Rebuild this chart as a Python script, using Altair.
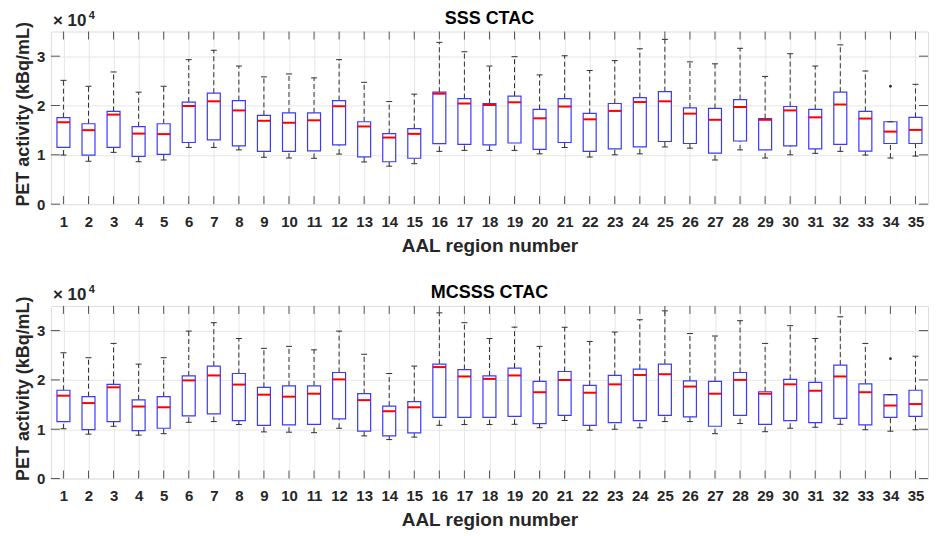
import altair as alt
import pandas as pd

regions = list(range(1, 36))
y_ticks = [0, 10000, 20000, 30000]

# SSS CTAC (top panel)
sss_lo = [9950, 8700, 10500, 8600, 8950, 11500, 11500, 11000, 9500, 9350, 9300, 10150, 8550, 7700, 8200,
          10700, 10900, 10900, 10900, 10200, 11500, 9550, 10000, 10200, 11600, 11350, 8950, 11000, 9350, 10000,
          10300, 10700, 9950, 9350, 9750]
sss_q1 = [11500, 9950, 11500, 9700, 10100, 12500, 13050, 11800, 10700, 10700, 10800, 12000, 9600, 8600, 9300,
          12250, 12100, 12000, 12400, 11100, 12500, 10700, 11200, 11600, 12700, 12300, 10350, 12800, 11000, 11800,
          11200, 12100, 10750, 12300, 12300]
sss_med = [16600, 15000, 18150, 14300, 14200, 19900, 20850, 19000, 16900, 16500, 17000, 19850, 15750, 13500, 14250,
           22400, 20400, 20100, 20650, 17400, 19800, 17200, 18900, 20700, 20850, 18350, 17100, 19700, 17100, 19000,
           17600, 20200, 17350, 14700, 15050]
sss_q3 = [17550, 16300, 18800, 15700, 16300, 20700, 22500, 21000, 18000, 18500, 18500, 21000, 16700, 14300, 15300,
          22700, 21400, 20400, 21900, 19200, 21400, 18400, 20400, 21600, 22800, 19500, 19400, 21200, 17350, 19800,
          19200, 22700, 18800, 16700, 17600]
sss_hi = [25100, 23900, 26800, 22700, 23900, 29300, 31200, 28000, 25800, 26400, 25600, 29300, 24700, 20800, 22300,
          32800, 30900, 28000, 29900, 26200, 30100, 27100, 29100, 31500, 33400, 28850, 28450, 31600, 25900, 30500,
          28000, 32300, 27000, 16700, 24300]
sss_out_region = [34]
sss_out_value = [23900]

# MCSSS CTAC (bottom panel)
mc_lo = [10100, 9000, 10600, 8800, 9100, 11400, 11550, 10950, 9460, 9400, 9300, 10200, 8650, 7900, 8400,
         10800, 10950, 10950, 11000, 10300, 11750, 9800, 10000, 10300, 11550, 11550, 9100, 11150, 9500, 10200,
         10400, 11000, 9900, 9600, 9900]
mc_q1 = [11550, 9900, 11550, 9700, 10200, 12700, 13100, 11750, 10800, 10900, 11000, 12100, 9600, 8650, 9250,
         12400, 12400, 12400, 12600, 11150, 12800, 10800, 11350, 11750, 12800, 12500, 10600, 12800, 11000, 11750,
         11350, 12200, 10900, 12400, 12600]
mc_med = [16800, 15300, 18500, 14600, 14450, 19900, 20900, 19050, 17000, 16600, 17200, 20100, 15900, 13650, 14450,
          22600, 20700, 20200, 20900, 17500, 20000, 17400, 19100, 21000, 21150, 18650, 17200, 20000, 17200, 19100,
          17800, 20700, 17500, 14800, 15100]
mc_q3 = [17900, 16600, 19100, 15950, 16600, 20800, 22800, 21300, 18500, 18800, 18800, 21500, 17200, 14700, 15600,
         23200, 22100, 20800, 22400, 19700, 21700, 18900, 20900, 22200, 23200, 19800, 19700, 21500, 17600, 20100,
         19500, 23000, 19200, 17000, 17900]
mc_hi = [25500, 24500, 27400, 23200, 24500, 29900, 31600, 28400, 26400, 26800, 26100, 29900, 25200, 21300, 22800,
         33600, 31600, 28400, 30700, 26800, 30700, 27800, 29700, 32200, 34000, 29400, 28900, 32000, 27400, 31000,
         28400, 32800, 27400, 17000, 24800]
mc_out_region = [34]
mc_out_value = [24300]

FONT = "Liberation Sans"
W, H = 879, 173
BOX_W = 13
TXT = "#262626"
GRID = "#e6e6e6"


def panel(title, lo, q1, med, q3, hi, out_r, out_v):
    df = pd.DataFrame({"region": regions, "lo": lo, "q1": q1, "med": med, "q3": q3, "hi": hi})
    xscale = alt.Scale(domain=[0.5, 35.5], nice=False, zero=False, padding=0)
    yscale = alt.Scale(domain=[0, 35000], nice=False, zero=False, padding=0)
    xaxis = alt.Axis(values=regions, title="AAL region number", grid=True, gridColor=GRID, ticks=False,
                     tickSize=0, domain=False, labelFont=FONT, labelFontSize=15, labelFontWeight="bold",
                     labelColor=TXT, labelPadding=10, labelFlush=False, titleFont=FONT, titleFontSize=19,
                     titleFontWeight="bold", titleColor=TXT, titlePadding=7)
    yaxis = alt.Axis(values=y_ticks, labelExpr="datum.value / 10000", title="PET activity (kBq/mL)",
                     grid=True, gridColor=GRID, ticks=False, tickSize=0, domain=False, labelFont=FONT,
                     labelFontSize=15, labelFontWeight="bold", labelColor=TXT, labelPadding=6,
                     labelFlush=False, titleFont=FONT, titleFontSize=18, titleFontWeight="bold",
                     titleColor=TXT, titlePadding=4, titleY=H / 2 - 4)

    def X():
        return alt.X("region:Q", scale=xscale, axis=xaxis)

    def Y(f):
        return alt.Y(f"{f}:Q", scale=yscale, axis=yaxis)

    base = alt.Chart(df)
    whisk = dict(color="#303030", strokeDash=[5, 3], strokeWidth=1)
    upper = base.mark_rule(**whisk).encode(x=X(), y=Y("q3"), y2="hi")
    lower = base.mark_rule(**whisk).encode(x=X(), y=Y("lo"), y2="q1")
    cap_hi = base.mark_tick(orient="horizontal", size=6, thickness=1, color="#303030", opacity=1).encode(
        x=X(), y=Y("hi"))
    cap_lo = base.mark_tick(orient="horizontal", size=6, thickness=1, color="#303030", opacity=1).encode(
        x=X(), y=Y("lo"))
    box = base.mark_bar(size=BOX_W, fill="white", stroke="#3a3aff", strokeWidth=1.2).encode(
        x=X(), y=Y("q1"), y2="q3")
    median = base.mark_tick(orient="horizontal", size=BOX_W, thickness=2, color="#ff0000", opacity=1).encode(
        x=X(), y=Y("med"))
    out = alt.Chart(pd.DataFrame({"region": out_r, "v": out_v})).mark_circle(
        size=8, color="#303030", opacity=1).encode(x=X(), y=Y("v"))

    tick_style = dict(color="#555555", strokeWidth=1)
    xt_top = base.mark_rule(**tick_style).encode(x=X(), y=alt.value(0), y2=alt.value(8))
    xt_bot = base.mark_rule(**tick_style).encode(x=X(), y=alt.value(H - 8), y2=alt.value(H))
    ydf = alt.Chart(pd.DataFrame({"v": y_ticks}))
    yt_left = ydf.mark_rule(**tick_style).encode(y=Y("v"), x=alt.value(0), x2=alt.value(9))
    yt_right = ydf.mark_rule(**tick_style).encode(y=Y("v"), x=alt.value(W - 9), x2=alt.value(W))

    txt = alt.Chart(pd.DataFrame({"t": ["× 10"], "e": ["4"], "title": [title]}))
    exp_main = txt.mark_text(align="left", baseline="alphabetic", font=FONT, fontSize=17,
                             fontWeight="bold", color=TXT).encode(text="t:N", x=alt.value(2), y=alt.value(-6))
    exp_sup = txt.mark_text(align="left", baseline="alphabetic", font=FONT, fontSize=11,
                            fontWeight="bold", color=TXT).encode(text="e:N", x=alt.value(38), y=alt.value(-13))
    ttl = txt.mark_text(align="center", baseline="alphabetic", font=FONT, fontSize=18,
                        fontWeight="bold", color="black").encode(text="title:N", x=alt.value(W / 2),
                                                                 y=alt.value(-8))

    return alt.layer(upper, lower, box, median, cap_hi, cap_lo, out, xt_top, xt_bot, yt_left, yt_right,
                     exp_main, exp_sup, ttl).properties(width=W, height=H)


top = panel("SSS CTAC", sss_lo, sss_q1, sss_med, sss_q3, sss_hi, sss_out_region, sss_out_value)
bottom = panel("MCSSS CTAC", mc_lo, mc_q1, mc_med, mc_q3, mc_hi, mc_out_region, mc_out_value)

chart = alt.vconcat(top, bottom, spacing=27).properties(
    padding={"left": 6, "top": 0, "right": 0, "bottom": 0}
).configure_view(stroke="#808080", strokeWidth=1).configure(background="white")

chart.save("out.html", embed_options={"renderer": "svg", "actions": False})
